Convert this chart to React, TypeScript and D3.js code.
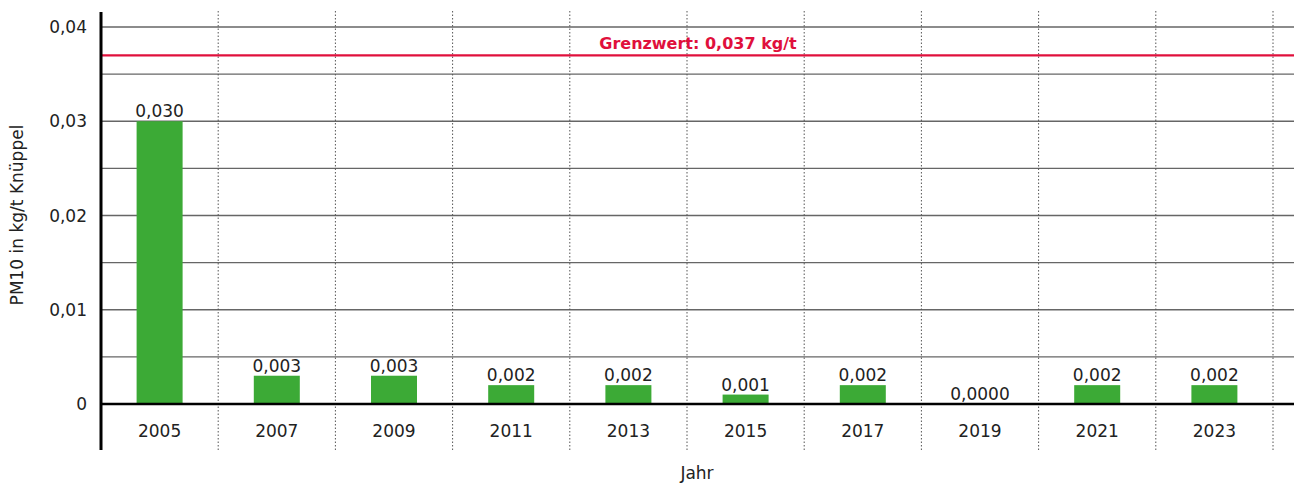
import React from "react";
import * as d3 from "d3";

const years = ["2005", "2007", "2009", "2011", "2013", "2015", "2017", "2019", "2021", "2023"];
const values = [0.03, 0.003, 0.003, 0.002, 0.002, 0.001, 0.002, 0.0, 0.002, 0.002];
const valueLabels = ["0,030", "0,003", "0,003", "0,002", "0,002", "0,001", "0,002", "0,0000", "0,002", "0,002"];
const yTicks = [0, 0.01, 0.02, 0.03, 0.04];
const yTickLabels = ["0", "0,01", "0,02", "0,03", "0,04"];
const gridValues = [0.005, 0.01, 0.015, 0.02, 0.025, 0.03, 0.035, 0.04];
const limitValue = 0.037;
const limitLabel = "Grenzwert: 0,037 kg/t";

const W = 1294;
const H = 484;
const FONT = "'DejaVu Sans', sans-serif";

export default function App() {
  const x0 = 101;
  const bandW = 117.2;
  const x = d3.scaleBand<string>().domain(years).range([x0, x0 + bandW * years.length]).paddingInner(0).paddingOuter(0);
  const y = d3.scaleLinear().domain([0, 0.04]).range([404, 27]);
  const barW = 46;
  const dividers = d3.range(1, years.length + 1).map((i) => x0 + i * x.bandwidth());

  return (
    <svg width={W} height={H} style={{ position: "absolute", left: 0, top: 0, background: "#fff" }} fontFamily={FONT}>
      {gridValues.map((g) => (
        <line key={g} x1={x0} x2={W} y1={y(g)} y2={y(g)} stroke="#666" strokeWidth={1.3} />
      ))}
      {dividers.map((d, i) => (
        <line key={i} x1={d} x2={d} y1={11} y2={450} stroke="#555" strokeWidth={1} strokeDasharray="1.5,2" />
      ))}
      <line x1={x0} x2={W} y1={y(limitValue)} y2={y(limitValue)} stroke="#e0103c" strokeWidth={2.2} />
      <text x={698} y={49} textAnchor="middle" fill="#e0103c" fontWeight="bold" fontSize={16}>
        {limitLabel}
      </text>
      {years.map((yr, i) => {
        const cx = (x(yr) as number) + x.bandwidth() / 2;
        return (
          <g key={yr}>
            <rect x={cx - barW / 2} y={y(values[i])} width={barW} height={y(0) - y(values[i])} fill="#3caa36" />
            <text x={cx} y={y(values[i]) - 4} textAnchor="middle" fontSize={17} fill="#222">
              {valueLabels[i]}
            </text>
            <text x={cx} y={437} textAnchor="middle" fontSize={17} fill="#222">
              {yr}
            </text>
          </g>
        );
      })}
      {yTicks.map((t, i) => (
        <text key={t} x={87} y={y(t) + 6} textAnchor="end" fontSize={17} fill="#222">
          {yTickLabels[i]}
        </text>
      ))}
      <line x1={x0} x2={W} y1={y(0)} y2={y(0)} stroke="#000" strokeWidth={2.6} />
      <line x1={x0} x2={x0} y1={12} y2={450} stroke="#000" strokeWidth={3} />
      <text x={697} y={479} textAnchor="middle" fontSize={17} fill="#222">
        Jahr
      </text>
      <text transform={`translate(23,215) rotate(-90)`} textAnchor="middle" fontSize={17} fill="#222">
        PM10 in kg/t Knüppel
      </text>
    </svg>
  );
}
